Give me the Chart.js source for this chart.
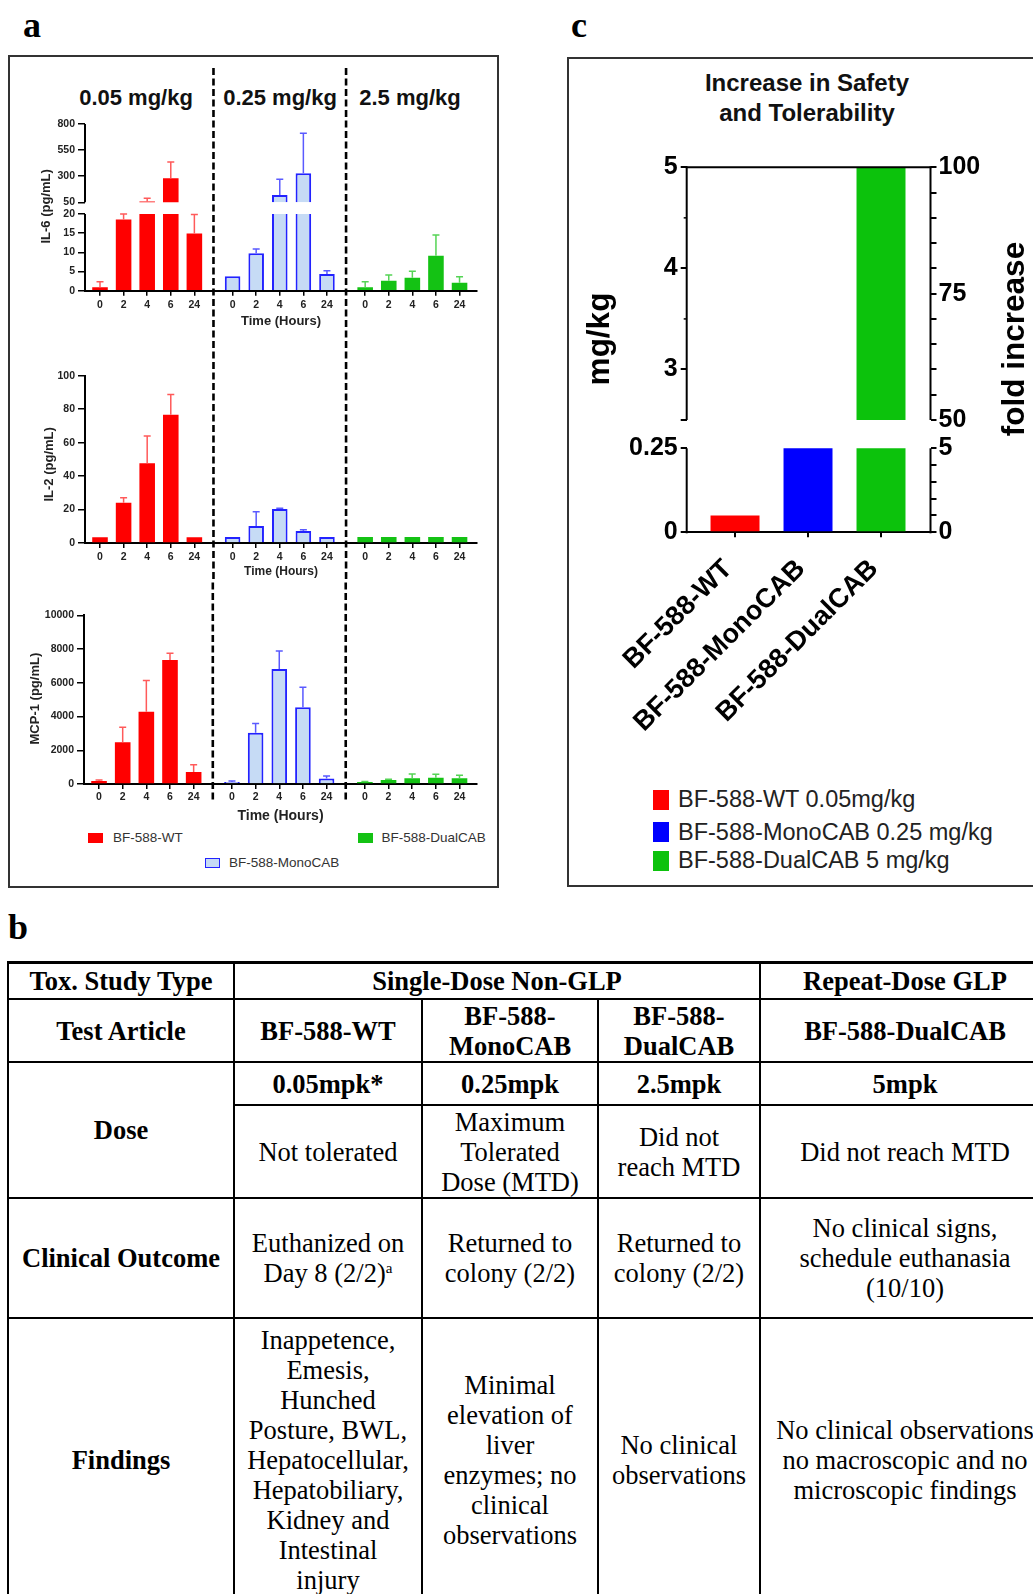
<!DOCTYPE html>
<html><head><meta charset="utf-8">
<script src="https://cdn.jsdelivr.net/npm/chart.js@4.4.1/dist/chart.umd.min.js"></script>
<style>
html,body{margin:0;padding:0;background:#fff;}
body{width:1033px;height:1594px;overflow:hidden;position:relative;font-family:"Liberation Sans",Arial,sans-serif;}
.abs{position:absolute;white-space:nowrap;line-height:1;}
.c{transform:translate(-50%,-50%);}
.l{transform:translate(0,-50%);}
canvas{position:absolute;}
.box{position:absolute;border:2px solid #333;box-sizing:border-box;}
.letter{position:absolute;font-family:"Liberation Serif",serif;font-weight:bold;font-size:36px;line-height:36px;}
.sq{position:absolute;box-sizing:border-box;}
#tbl{position:absolute;left:7px;top:961px;display:grid;grid-template-columns:226px 188px 176px 162px 290px;grid-template-rows:36px 63px 43px 93px 120px 284px;border-top:3px solid #000;border-left:2px solid #000;font-family:"Liberation Serif",serif;font-size:26.5px;line-height:30px;color:#000;}
#tbl>div{box-sizing:border-box;border-right:2px solid #000;border-bottom:2px solid #000;display:flex;align-items:center;justify-content:center;text-align:center;white-space:nowrap;}
#tbl .b{font-weight:bold;}
#tbl sup{font-size:15px;line-height:0;vertical-align:9px;}
</style></head>
<body>
<div class="letter" style="left:23px;top:7px;">a</div>
<div class="letter" style="left:571px;top:7px;">c</div>
<div class="letter" style="left:8px;top:909px;">b</div>

<div class="box" style="left:8px;top:55px;width:491px;height:833px;"></div>
<div class="box" style="left:567px;top:57px;width:500px;height:830px;"></div>

<div class="abs c" id="dose0" style="left:136px;top:98px;font-weight:bold;font-size:22px;color:#111;"></div>
<div class="abs c" id="dose1" style="left:280px;top:98px;font-weight:bold;font-size:22px;color:#111;"></div>
<div class="abs c" id="dose2" style="left:410px;top:98px;font-weight:bold;font-size:22px;color:#111;"></div>

<canvas id="il6" width="480" height="275" style="left:10px;top:60px;"></canvas>
<canvas id="il2" width="480" height="245" style="left:10px;top:335px;"></canvas>
<canvas id="mcp" width="480" height="250" style="left:10px;top:580px;"></canvas>

<div class="sq" style="left:88px;top:833px;width:15px;height:10px;background:#ff0000;"></div>
<div class="abs l" id="legA0" style="left:113px;top:838px;font-size:13.5px;color:#333;"></div>
<div class="sq" style="left:358px;top:833px;width:15px;height:10px;background:#14c214;"></div>
<div class="abs l" id="legA2" style="left:381.5px;top:838px;font-size:13.5px;color:#333;"></div>
<div class="sq" style="left:205px;top:858px;width:15px;height:10px;background:#c6dbf5;border:1.5px solid #2222ff;"></div>
<div class="abs l" id="legA1" style="left:229px;top:863px;font-size:13.5px;color:#333;"></div>

<div class="abs c" style="left:807px;top:98px;font-weight:bold;font-size:24px;line-height:30px;text-align:center;color:#111;">Increase in Safety<br>and Tolerability</div>
<canvas id="cchart" width="464" height="620" style="left:569px;top:140px;"></canvas>

<div class="sq" style="left:653px;top:790px;width:16px;height:20px;background:#ff0000;"></div>
<div class="abs l" id="legC0" style="left:678px;top:800px;font-size:23.5px;color:#222;"></div>
<div class="sq" style="left:653px;top:822px;width:16px;height:20px;background:#0000ff;"></div>
<div class="abs l" id="legC1" style="left:678px;top:833px;font-size:23.5px;color:#222;"></div>
<div class="sq" style="left:653px;top:851px;width:16px;height:20px;background:#0cc20c;"></div>
<div class="abs l" id="legC2" style="left:678px;top:861px;font-size:23.5px;color:#222;"></div>

<div id="tbl">
  <div class="b"><span>Tox. Study Type</span></div>
  <div class="b" style="grid-column:span 3;"><span>Single-Dose Non-GLP</span></div>
  <div class="b"><span>Repeat-Dose GLP</span></div>

  <div class="b"><span>Test Article</span></div>
  <div class="b"><span>BF-588-WT</span></div>
  <div class="b"><span>BF-588-<br>MonoCAB</span></div>
  <div class="b"><span>BF-588-<br>DualCAB</span></div>
  <div class="b"><span>BF-588-DualCAB</span></div>

  <div class="b" style="grid-row:span 2;"><span>Dose</span></div>
  <div class="b"><span>0.05mpk*</span></div>
  <div class="b"><span>0.25mpk</span></div>
  <div class="b"><span>2.5mpk</span></div>
  <div class="b"><span>5mpk</span></div>
  <div><span>Not tolerated</span></div>
  <div><span>Maximum<br>Tolerated<br>Dose (MTD)</span></div>
  <div><span>Did not<br>reach MTD</span></div>
  <div><span>Did not reach MTD</span></div>

  <div class="b"><span>Clinical Outcome</span></div>
  <div><span>Euthanized on<br>Day 8 (2/2)<sup>a</sup></span></div>
  <div><span>Returned to<br>colony (2/2)</span></div>
  <div><span>Returned to<br>colony (2/2)</span></div>
  <div><span>No clinical signs,<br>schedule euthanasia<br>(10/10)</span></div>

  <div class="b"><span>Findings</span></div>
  <div><span>Inappetence,<br>Emesis,<br>Hunched<br>Posture, BWL,<br>Hepatocellular,<br>Hepatobiliary,<br>Kidney and<br>Intestinal<br>injury</span></div>
  <div><span>Minimal<br>elevation of<br>liver<br>enzymes; no<br>clinical<br>observations</span></div>
  <div><span>No clinical<br>observations</span></div>
  <div><span>No clinical observations<br>no macroscopic and no<br>microscopic findings</span></div>
</div>

<script>
// ---------------- DATA ----------------
const timeLabels = ['0', '2', '4', '6', '24'];
const seriesNames = ['BF-588-WT', 'BF-588-MonoCAB', 'BF-588-DualCAB'];
const doseTitles = ['0.05 mg/kg', '0.25 mg/kg', '2.5 mg/kg'];

const il6WT      = [0.9, 18.6, 57, 280, 14.9];
const il6WTErr   = [1.45, 1.4, 31, 156, 5.0];
const il6Mono    = [3.8, 9.75, 120, 328, 4.35];
const il6MonoErr = [0, 1.15, 150, 383, 0.85];
const il6Dual    = [0.9, 2.6, 3.4, 9.1, 2.1];
const il6DualErr = [1.46, 1.5, 1.7, 5.4, 1.55];

const il2WT      = [3.4, 24, 47.6, 76.7, 3.4];
const il2WTErr   = [0, 3, 16.4, 12.1, 0];
const il2Mono    = [3.6, 10.2, 20.3, 7.2, 3.6];
const il2MonoErr = [0, 8.5, 0.4, 0.7, 0];
const il2Dual    = [3.6, 3.6, 3.6, 3.6, 3.6];
const il2DualErr = [0, 0, 0, 0, 0];

const mcpWT      = [180, 2470, 4290, 7350, 710];
const mcpWTErr   = [50, 890, 1840, 400, 435];
const mcpMono    = [120, 3040, 6820, 4550, 320];
const mcpMonoErr = [60, 550, 1070, 1190, 160];
const mcpDual    = [120, 240, 340, 375, 340];
const mcpDualErr = [30, 40, 255, 200, 175];

const il6LowTicks  = [0, 5, 10, 15, 20];
const il6HighTicks = [50, 300, 550, 800];
const il2Ticks = [0, 20, 40, 60, 80, 100];
const mcpTicks = [0, 2000, 4000, 6000, 8000, 10000];

const safetyLabels = ['BF-588-WT', 'BF-588-MonoCAB', 'BF-588-DualCAB'];
const safetyDose   = [0.05, 0.25, 5];
const safetyLegend = ['BF-588-WT 0.05mg/kg', 'BF-588-MonoCAB 0.25 mg/kg', 'BF-588-DualCAB 5 mg/kg'];
const mgLowTicks   = [0, 0.25];
const mgHighTicks  = [2.5, 3, 4, 5];
const mgMinorTicks = [3.5, 4.5];
const foldLowTicks  = [0, 1, 2, 3, 4, 5];
const foldHighTicks = [50, 55, 60, 65, 70, 75, 80, 85, 90, 95, 100];
const foldLowLabels  = [0, 5];
const foldHighLabels = [50, 75, 100];
const mgLabels = [0, 0.25, 3, 4, 5];

// ---------------- TEXT ----------------
doseTitles.forEach((t, i) => document.getElementById('dose' + i).textContent = t);
seriesNames.forEach((t, i) => document.getElementById('legA' + i).textContent = t);
safetyLegend.forEach((t, i) => document.getElementById('legC' + i).textContent = t);

// ---------------- SETUP ----------------
const FONT = "'Liberation Sans', Arial, sans-serif";
Chart.defaults.font.family = FONT;
Chart.defaults.color = '#222';
Chart.defaults.animation = false;

const GROUP_STRIDE = 5.62;
const xPos = (g, i) => g * GROUP_STRIDE + i;
const xTickVals = [0, 1, 2].flatMap(g => timeLabels.map((_, i) => xPos(g, i)));
const dividerAt = [0, 1].map(g => (xPos(g, 4) + xPos(g + 1, 0)) / 2);

const seriesStyle = [
  {bg: '#ff0000', border: '#ff0000', bw: 0, err: '#ff5a5a'},
  {bg: '#c6dbf5', border: '#2222ff', bw: 2, err: '#5a5aff'},
  {bg: '#14c214', border: '#14c214', bw: 0, err: '#55d455'}
];
const safetyColors = ['#ff0000', '#0000ff', '#0cc20c'];

// ---------------- PLUGINS ----------------
const errorBars = {
  id: 'errorBars',
  afterDatasetsDraw(chart, args, opts) {
    if (!opts || !opts.enabled) return;
    const ctx = chart.ctx, xs = chart.scales.x;
    const scaleFor = v => (opts.split != null && v > opts.split) ? chart.scales[opts.high] : chart.scales[opts.low];
    chart.data.datasets.forEach(ds => {
      if (!ds.errors) return;
      ctx.save();
      ctx.strokeStyle = ds.errorColor;
      ctx.lineWidth = 1.5;
      ds.means.forEach((m, i) => {
        const e = ds.errors[i];
        if (!e) return;
        const x = xs.getPixelForValue(ds.data[i].x);
        const y0 = scaleFor(m).getPixelForValue(m);
        const y1 = scaleFor(m + e).getPixelForValue(m + e);
        ctx.beginPath();
        ctx.moveTo(x, y0); ctx.lineTo(x, y1);
        ctx.moveTo(x - 3.5, y1); ctx.lineTo(x + 3.5, y1);
        ctx.stroke();
      });
      ctx.restore();
    });
  }
};

const dividers = {
  id: 'dividers',
  afterDraw(chart, args, opts) {
    if (!opts || !opts.at) return;
    const ctx = chart.ctx, xs = chart.scales.x;
    const period = 10.5;
    ctx.save();
    ctx.strokeStyle = '#000';
    ctx.lineWidth = 2.6;
    ctx.setLineDash([7, 3.5]);
    ctx.lineDashOffset = (((opts.pageTop + opts.top) - 68) % period + period) % period;
    opts.at.forEach(v => {
      const x = xs.getPixelForValue(v);
      ctx.beginPath(); ctx.moveTo(x, opts.top); ctx.lineTo(x, opts.bottom); ctx.stroke();
    });
    ctx.restore();
  }
};

const sideTitles = {
  id: 'sideTitles',
  afterDraw(chart, args, opts) {
    if (!opts || !opts.items) return;
    const ctx = chart.ctx, ca = chart.chartArea;
    opts.items.forEach(t => {
      ctx.save();
      ctx.font = t.font;
      ctx.fillStyle = t.color || '#222';
      ctx.textAlign = 'center';
      ctx.textBaseline = 'middle';
      ctx.translate(t.x, (ca.top + ca.bottom) / 2 + (t.dy || 0));
      ctx.rotate(-Math.PI / 2);
      ctx.fillText(t.text, 0, 0);
      ctx.restore();
    });
  }
};

const brokenAxis = {
  id: 'brokenAxis',
  afterDatasetsDraw(chart, args, opts) {
    if (!opts || !opts.segments) return;
    const ctx = chart.ctx, ca = chart.chartArea;
    ctx.save();
    ctx.strokeStyle = '#000';
    ctx.lineWidth = opts.lineWidth || 2;
    opts.segments.forEach(sg => {
      const s = chart.scales[sg.scale];
      const x = sg.side === 'right' ? ca.right : ca.left;
      ctx.beginPath();
      ctx.moveTo(x, s.getPixelForValue(sg.from) + (sg.extFrom || 0));
      ctx.lineTo(x, s.getPixelForValue(sg.to) - (sg.extTo || 0));
      ctx.stroke();
    });
    (opts.hlines || []).forEach(h => {
      const s = chart.scales[h.scale];
      const y = s.getPixelForValue(h.value);
      ctx.beginPath(); ctx.moveTo(ca.left - 1, y); ctx.lineTo(ca.right + 1, y); ctx.stroke();
    });
    (opts.minor || []).forEach(m => {
      const s = chart.scales[m.scale];
      ctx.lineWidth = 1.5;
      m.values.forEach(v => {
        const y = s.getPixelForValue(v);
        ctx.beginPath(); ctx.moveTo(ca.left - m.len, y); ctx.lineTo(ca.left, y); ctx.stroke();
      });
    });
    ctx.restore();
  }
};
Chart.register(errorBars, dividers, sideTitles, brokenAxis);

// ---------------- PANEL A HELPERS ----------------
const tickFontA = {family: FONT, weight: 'bold', size: 10.5};
function xScaleA(height, titleSize, titlePadBottom, tickPad) {
  return {
    type: 'linear', min: -0.636, max: 15.98, offset: false, bounds: 'data',
    afterBuildTicks: s => { s.ticks = xTickVals.map(v => ({value: v})); },
    afterFit: s => { s.height = height; },
    ticks: {autoSkip: false, maxRotation: 0, minRotation: 0, padding: tickPad, color: '#222', font: tickFontA,
      callback: (v, i) => timeLabels[i % timeLabels.length]},
    grid: {drawOnChartArea: false, drawTicks: true, tickLength: 5, color: '#000', lineWidth: 1.5, offset: false},
    border: {display: true, color: '#000', width: 2},
    title: {display: true, text: 'Time (Hours)', color: '#222', font: {family: FONT, weight: 'bold', size: titleSize},
      padding: {top: 0, bottom: titlePadBottom}}
  };
}
function yScaleA(min, max, ticks, width, extra) {
  return Object.assign({
    type: 'linear', position: 'left', min: min, max: max, bounds: 'data',
    afterBuildTicks: s => { s.ticks = ticks.map(v => ({value: v})); },
    afterFit: s => { s.width = width; },
    ticks: {autoSkip: false, padding: 3, color: '#222', font: tickFontA, callback: v => String(v)},
    grid: {drawOnChartArea: false, drawTicks: true, tickLength: 7, color: '#000', lineWidth: 1.5},
    border: {display: true, color: '#000', width: 2}
  }, extra || {});
}
const barCommon = {barPercentage: 0.66, categoryPercentage: 1, grouped: false, borderSkipped: false};

function simpleDatasets(seriesList, errList) {
  return seriesList.map((vals, g) => {
    const st = seriesStyle[g];
    return Object.assign({
      label: seriesNames[g], yAxisID: 'y',
      data: vals.map((v, i) => ({x: xPos(g, i), y: v})),
      backgroundColor: st.bg, borderColor: st.border,
      borderWidth: {top: st.bw, left: st.bw, right: st.bw, bottom: 0},
      means: vals, errors: errList[g], errorColor: st.err
    }, barCommon);
  });
}

// ---------------- IL-6 (broken axis) ----------------
const IL6_SPLIT = 20, IL6_RESUME = 50;
const il6Series = [il6WT, il6Mono, il6Dual];
const il6Errs = [il6WTErr, il6MonoErr, il6DualErr];
const il6Datasets = [];
il6Series.forEach((vals, g) => {
  const st = seriesStyle[g];
  il6Datasets.push(Object.assign({
    label: seriesNames[g], yAxisID: 'yLow',
    data: vals.map((v, i) => ({x: xPos(g, i), y: [0, Math.min(v, IL6_SPLIT)]})),
    backgroundColor: st.bg, borderColor: st.border,
    borderWidth: c => ({top: vals[c.dataIndex] > IL6_SPLIT ? 0 : st.bw, left: st.bw, right: st.bw, bottom: 0}),
    means: vals, errors: il6Errs[g], errorColor: st.err
  }, barCommon));
  il6Datasets.push(Object.assign({
    label: seriesNames[g] + ' upper', yAxisID: 'yHigh',
    data: vals.map((v, i) => ({x: xPos(g, i), y: v > IL6_RESUME ? [IL6_RESUME, v] : null})),
    backgroundColor: st.bg, borderColor: st.border,
    borderWidth: {top: st.bw, left: st.bw, right: st.bw, bottom: 0}
  }, barCommon));
});

new Chart(document.getElementById('il6'), {
  type: 'bar',
  data: {datasets: il6Datasets},
  options: {
    responsive: false, animation: false,
    layout: {padding: {left: 0, right: 13, top: 64, bottom: 0}},
    plugins: {
      legend: {display: false}, tooltip: {enabled: false},
      errorBars: {enabled: true, low: 'yLow', high: 'yHigh', split: IL6_SPLIT},
      dividers: {at: dividerAt, top: 8, bottom: 275, pageTop: 60},
      sideTitles: {items: [{text: 'IL-6 (pg/mL)', x: 36.7, dy: -1, font: 'bold 13px ' + FONT}]},
      brokenAxis: {segments: [{scale: 'yLow', from: 0, to: IL6_SPLIT, extFrom: 1}, {scale: 'yHigh', from: IL6_RESUME, to: 800}]}
    },
    scales: {
      x: xScaleA(44.3, 13, 5.5, 3),
      yLow: yScaleA(0, 21.53, il6LowTicks, 75, {stack: 'il6', stackWeight: 82.55, border: {display: false}}),
      yHigh: yScaleA(-6.0, 800, il6HighTicks, 75, {stack: 'il6', stackWeight: 84.15, border: {display: false}})
    }
  }
});

// ---------------- IL-2 ----------------
new Chart(document.getElementById('il2'), {
  type: 'bar',
  data: {datasets: simpleDatasets([il2WT, il2Mono, il2Dual], [il2WTErr, il2MonoErr, il2DualErr])},
  options: {
    responsive: false, animation: false,
    layout: {padding: {left: 0, right: 13, top: 40.7, bottom: 0}},
    plugins: {
      legend: {display: false}, tooltip: {enabled: false},
      errorBars: {enabled: true, low: 'y'},
      dividers: {at: dividerAt, top: 0, bottom: 245, pageTop: 335},
      sideTitles: {items: [{text: 'IL-2 (pg/mL)', x: 39, dy: 5, font: 'bold 13px ' + FONT}]}
    },
    scales: {x: xScaleA(37, 12, 0.8, 2.7), y: yScaleA(0, 100, il2Ticks, 75)}
  }
});

// ---------------- MCP-1 ----------------
new Chart(document.getElementById('mcp'), {
  type: 'bar',
  data: {datasets: simpleDatasets([mcpWT, mcpMono, mcpDual], [mcpWTErr, mcpMonoErr, mcpDualErr])},
  options: {
    responsive: false, animation: false,
    layout: {padding: {left: 0, right: 13, top: 35.3, bottom: 0}},
    plugins: {
      legend: {display: false}, tooltip: {enabled: false},
      errorBars: {enabled: true, low: 'y'},
      dividers: {at: dividerAt, top: 0, bottom: 220, pageTop: 580},
      sideTitles: {items: [{text: 'MCP-1 (pg/mL)', x: 25.5, dy: -1, font: 'bold 13px ' + FONT}]}
    },
    scales: {x: xScaleA(46, 14, 5.6, 1.7), y: yScaleA(0, 10000, mcpTicks, 74)}
  }
});

// ---------------- PANEL C ----------------
const MG_SPLIT = 0.25, MG_RESUME = 2.5;
const tickFontC = {family: FONT, weight: 'bold', size: 25};
function yScaleC(pos, stack, weight, min, max, ticks, labels, width, pad) {
  return {
    type: 'linear', position: pos, stack: stack, stackWeight: weight, min: min, max: max, bounds: 'data',
    afterBuildTicks: s => { s.ticks = ticks.map(v => ({value: v})); },
    afterFit: s => { s.width = width; },
    ticks: {autoSkip: false, padding: pad, color: '#000', font: tickFontC,
      callback: v => labels.includes(v) ? String(v) : ''},
    grid: {drawOnChartArea: false, drawTicks: true, tickLength: 6, color: '#000', lineWidth: 2},
    border: {display: false}
  };
}
new Chart(document.getElementById('cchart'), {
  type: 'bar',
  data: {datasets: [
    Object.assign({
      label: 'mg/kg', yAxisID: 'lLow',
      data: safetyDose.map((v, i) => ({x: i, y: [0, Math.min(v, MG_SPLIT)]})),
      backgroundColor: safetyColors, borderWidth: 0
    }, {barPercentage: 0.671, categoryPercentage: 1, grouped: false}),
    Object.assign({
      label: 'mg/kg upper', yAxisID: 'lHigh',
      data: safetyDose.map((v, i) => ({x: i, y: v > MG_RESUME ? [MG_RESUME, v] : null})),
      backgroundColor: safetyColors, borderWidth: 0
    }, {barPercentage: 0.671, categoryPercentage: 1, grouped: false})
  ]},
  options: {
    responsive: false, animation: false,
    layout: {padding: {left: 0, right: 0, top: 27.3, bottom: 0}},
    plugins: {
      legend: {display: false}, tooltip: {enabled: false},
      sideTitles: {items: [
        {text: 'mg/kg', x: 31, dy: -10.8, font: 'bold 31.5px ' + FONT, color: '#000'},
        {text: 'fold increase', x: 446, dy: -10.8, font: 'bold 31.5px ' + FONT, color: '#000'}
      ]},
      brokenAxis: {
        segments: [
          {scale: 'lLow', from: 0, to: MG_SPLIT, extFrom: 1},
          {scale: 'lHigh', from: MG_RESUME, to: 5, extTo: 1},
          {scale: 'rLow', from: 0, to: 5, side: 'right', extFrom: 1},
          {scale: 'rHigh', from: 50, to: 100, side: 'right', extTo: 1}
        ],
        hlines: [{scale: 'lHigh', value: 5}],
        minor: [{scale: 'lHigh', values: mgMinorTicks, len: 3}]
      }
    },
    scales: {
      x: {
        type: 'linear', min: -0.662, max: 2.678, offset: false, bounds: 'data',
        afterBuildTicks: s => { s.ticks = safetyLabels.map((_, i) => ({value: i})); },
        afterFit: s => { s.height = 227.7; },
        ticks: {autoSkip: false, minRotation: 45, maxRotation: 45, padding: 16, labelOffset: -7, color: '#000',
          font: {family: FONT, weight: 'bold', size: 27}, callback: (v, i) => safetyLabels[i]},
        grid: {drawOnChartArea: false, drawTicks: true, tickLength: 5, color: '#000', lineWidth: 2, offset: false},
        border: {display: true, color: '#000', width: 2}
      },
      lLow: yScaleC('left', 'L', 98.15, 0, 0.2921, mgLowTicks, mgLabels, 117.7, 3),
      lHigh: yScaleC('left', 'L', 266.85, 2.360, 5, mgHighTicks, mgLabels, 117.7, 3),
      rHigh: yScaleC('right', 'R', 266.85, 47.20, 100, foldHighTicks, foldHighLabels, 102.5, 2),
      rLow: yScaleC('right', 'R', 98.15, 0, 5.842, foldLowTicks, foldLowLabels, 102.5, 2)
    }
  }
});
</script>
</body></html>
